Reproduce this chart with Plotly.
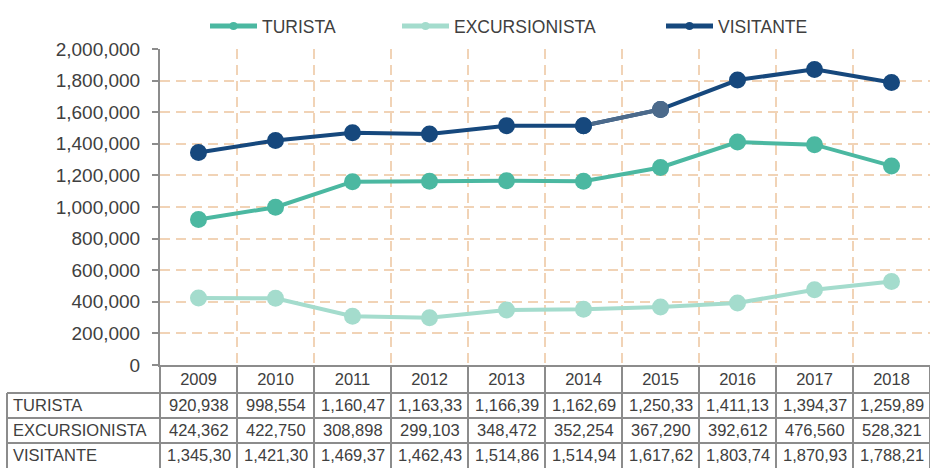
import plotly.graph_objects as go

years = ["2009", "2010", "2011", "2012", "2013", "2014", "2015", "2016", "2017", "2018"]
turista = [920938, 998554, 1160475, 1163330, 1166390, 1162690, 1250330, 1411130, 1394370, 1259890]
excursionista = [424362, 422750, 308898, 299103, 348472, 352254, 367290, 392612, 476560, 528321]
visitante = [1345300, 1421304, 1469373, 1462433, 1514862, 1514944, 1617620, 1803742, 1870930, 1788211]
series_names = ["TURISTA", "EXCURSIONISTA", "VISITANTE"]
y_ticks = [0, 200000, 400000, 600000, 800000, 1000000, 1200000, 1400000, 1600000, 1800000, 2000000]

C_TUR = "#4bb8a1"
C_EXC = "#a4dccd"
C_VIS = "#16487d"
C_VIS_HL = "#4c6a8b"
GRID = "#f1d3b6"
AXIS = "#8c8c8c"
TXT = "#404040"
FONT = "Liberation Sans"

W, H = 930, 468
ML, MR, MT, MB = 160, 0, 49, 103
PW, PH = W - ML - MR, H - MT - MB

def px_x(px):
    return (px - ML) / PW

def px_y(py):
    return (H - MB - py) / PH

n = len(years)
fig = go.Figure()

MS = 17
fig.add_trace(go.Scatter(x=years, y=turista, mode="lines+markers", showlegend=False,
                         line=dict(color=C_TUR, width=4), marker=dict(size=MS, color=C_TUR)))
fig.add_trace(go.Scatter(x=years, y=excursionista, mode="lines+markers", showlegend=False,
                         line=dict(color=C_EXC, width=4), marker=dict(size=MS, color=C_EXC)))
fig.add_trace(go.Scatter(x=years, y=visitante, mode="lines+markers", showlegend=False,
                         line=dict(color=C_VIS, width=4), marker=dict(size=MS, color=C_VIS)))
hl = years.index("2015")
fig.add_trace(go.Scatter(x=years[hl - 1:hl + 1], y=visitante[hl - 1:hl + 1], mode="lines",
                         showlegend=False, line=dict(color=C_VIS_HL, width=4), hoverinfo="skip"))
fig.add_trace(go.Scatter(x=[years[hl - 1]], y=[visitante[hl - 1]], mode="markers",
                         showlegend=False, marker=dict(size=MS, color=C_VIS), hoverinfo="skip"))
fig.add_trace(go.Scatter(x=[years[hl]], y=[visitante[hl]], mode="markers",
                         showlegend=False, marker=dict(size=MS, color=C_VIS_HL), hoverinfo="skip"))

legend_x = [px_x(205), px_x(397), px_x(661)]
for i, (name, col) in enumerate(zip(series_names, [C_TUR, C_EXC, C_VIS])):
    lg = "legend" if i == 0 else f"legend{i+1}"
    fig.add_trace(go.Scatter(x=[None], y=[None], mode="lines+markers", name=name, legend=lg,
                             line=dict(color=col, width=5), marker=dict(size=8, color=col)))

shapes = []
annotations = []
line_style = dict(color=AXIS, width=2)

for py in [393, 418, 443]:
    shapes.append(dict(type="line", xref="paper", yref="paper", x0=px_x(7), x1=1.0,
                       y0=px_y(py), y1=px_y(py), line=line_style))
shapes.append(dict(type="line", xref="paper", yref="paper", x0=px_x(7), x1=px_x(7),
                   y0=px_y(393), y1=px_y(H + 2), line=line_style))
for k in range(n + 1):
    xp = k / n
    shapes.append(dict(type="line", xref="paper", yref="paper", x0=xp, x1=xp,
                       y0=0, y1=px_y(H + 2), line=line_style))

TFS = 16.5
row_y = [405, 430, 455]
for name, vals, ry in zip(series_names, [turista, excursionista, visitante], row_y):
    annotations.append(dict(text=name, xref="paper", yref="paper", x=px_x(11), y=px_y(ry),
                            xanchor="left", yanchor="middle", showarrow=False,
                            font=dict(family=FONT, size=TFS, color=TXT)))
    for j, v in enumerate(vals):
        annotations.append(dict(text=f"{v:,}"[:8], xref="paper", yref="paper",
                                x=(j + 0.5) / n, y=px_y(ry), xanchor="center", yanchor="middle",
                                showarrow=False, font=dict(family=FONT, size=TFS, color=TXT)))

legend_common = dict(orientation="h", yanchor="middle", xanchor="left", y=px_y(26),
                     font=dict(family=FONT, size=17.5, color=TXT), bgcolor="rgba(0,0,0,0)",
                     itemwidth=47)

fig.update_layout(
    width=W, height=H,
    margin=dict(l=ML, r=MR, t=MT, b=MB, pad=0, autoexpand=False),
    paper_bgcolor="white", plot_bgcolor="white",
    font=dict(family=FONT, color=TXT),
    legend=dict(x=legend_x[0], **legend_common),
    legend2=dict(x=legend_x[1], **legend_common),
    legend3=dict(x=legend_x[2], **legend_common),
    xaxis=dict(type="category", range=[-0.5, n - 0.5], tickson="boundaries",
               showgrid=True, gridcolor=GRID, gridwidth=1.5, griddash="10px,6px",
               showline=True, linecolor=AXIS, linewidth=2, ticks="",
               tickfont=dict(family=FONT, size=TFS, color=TXT), ticklabelstandoff=-2),
    yaxis=dict(range=[0, 2000000], tickvals=y_ticks, tickformat=",d",
               showgrid=True, gridcolor=GRID, gridwidth=1.5, griddash="10px,6px",
               zeroline=False, showline=True, linecolor=AXIS, linewidth=2,
               ticks="outside", ticklen=6, tickcolor=AXIS, tickwidth=2,
               tickfont=dict(family=FONT, size=19, color=TXT), ticklabelstandoff=8),
    shapes=shapes, annotations=annotations, hovermode=False,
)

fig.write_html("out.html", config={"displayModeBar": False},
               post_script="document.body.style.margin='0';document.body.style.overflow='hidden';")
